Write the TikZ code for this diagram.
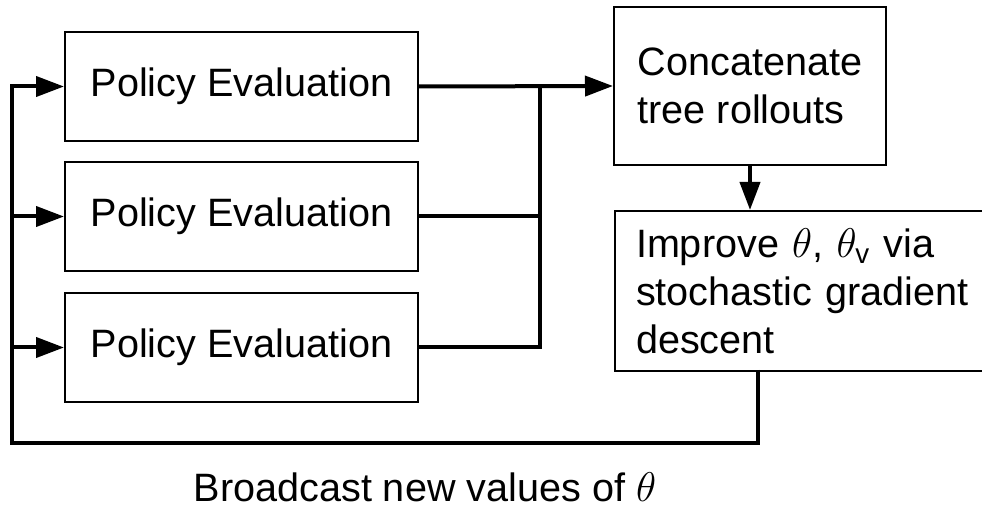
\documentclass[tikz,border=0pt]{standalone}
\usepackage{amsmath}
\usepackage{fontspec}
\setmainfont{Liberation Sans}
\usetikzlibrary{arrows.meta}

\begin{document}
\begin{tikzpicture}[x=0.5pt, y=-0.5pt,
		every node/.style={font=\fontsize{19.8pt}{24pt}\selectfont},
		box/.style={draw, line width=1pt, rectangle, inner sep=0pt},
		wire/.style={line width=2pt},
		flow/.style={line width=2pt, -{Triangle[length=14pt,width=10pt]}}]
			\useasboundingbox (0,0) rectangle (982,508);
			% workers
			\node[box, minimum width=176.5pt, minimum height=54.5pt](pe1) at (241.5, 86.5) {Policy Evaluation};
			\node[box, minimum width=176.5pt, minimum height=54.5pt](pe2) at (241.5, 216.5) {Policy Evaluation};
			\node[box, minimum width=176.5pt, minimum height=54.5pt](pe3) at (241.5, 347.5) {Policy Evaluation};
			% learner
			\node[box, align=left, minimum width=136pt, minimum height=79pt](concat) at (750, 86) {Concatenate\\tree rollouts};
			\node[box, anchor=north west, align=left, text width=179pt, inner xsep=10.5pt, minimum height=80pt](improve) at (614, 210)
				{Improve $\theta$, $\theta_{\text{v}}$ via\\stochastic gradient\\descent};
			\node[anchor=base](bcast) at (425, 502) {Broadcast new values of $\theta$};
			\coordinate(bus) at (540, 86);
			\coordinate(send) at (758, 370);
			\coordinate(loop) at (12, 443);
			% gather rollouts
			\draw[flow](pe1.east) -- (concat.west);
			\draw[wire](pe2.east) -| (bus);
			\draw[wire](pe3.east) -| (bus);
			\draw[flow](concat.south) -- (concat.south |- improve.north);
			% send parameters back
			\draw[flow](send) |- (loop) |- (pe1.west);
			\draw[flow](loop |- pe2.west) -- (pe2.west);
			\draw[flow](loop |- pe3.west) -- (pe3.west);
		\end{tikzpicture}
\end{document}
